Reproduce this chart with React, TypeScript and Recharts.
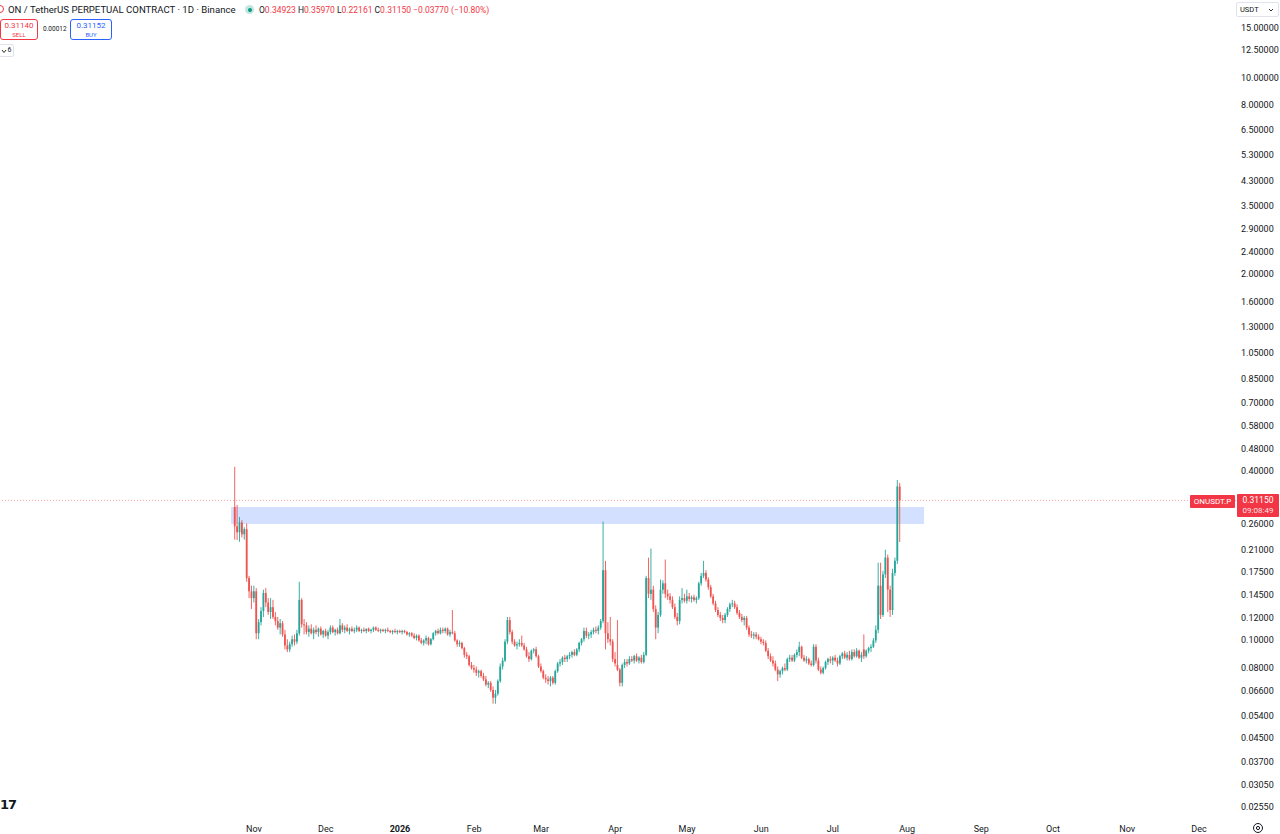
import React from 'react';
import { ComposedChart, Bar, XAxis, YAxis, ReferenceArea, ReferenceLine } from 'recharts';

type Candle = [number, number, number, number]; // open, high, low, close

const RED = '#ef5350';
const GREEN = '#26a69a';
const TEXT = '#131722';
const FONT = 'Roboto, "Noto Sans", sans-serif';

// day index 0 = 1 Nov 2025; first candle is 24 Oct 2025
const firstDay = -8;

const oct25: Candle[] = [
	[0.295, 0.41, 0.226, 0.252], [0.252, 0.3, 0.225, 0.24], [0.24, 0.272, 0.222, 0.26], [0.26, 0.265, 0.23, 0.236],
	[0.236, 0.25, 0.226, 0.246], [0.246, 0.258, 0.16, 0.165], [0.165, 0.168, 0.14, 0.148], [0.148, 0.155, 0.128, 0.14],
];

const nov25: Candle[] = [
	[0.14, 0.155, 0.135, 0.148], [0.148, 0.152, 0.1, 0.105], [0.105, 0.118, 0.1, 0.115], [0.115, 0.13, 0.112, 0.126],
	[0.126, 0.15, 0.12, 0.146], [0.146, 0.152, 0.13, 0.135], [0.135, 0.14, 0.122, 0.125], [0.125, 0.14, 0.118, 0.13],
	[0.13, 0.138, 0.118, 0.12], [0.12, 0.125, 0.112, 0.116], [0.116, 0.12, 0.108, 0.11], [0.11, 0.118, 0.104, 0.114],
	[0.114, 0.116, 0.102, 0.104], [0.104, 0.108, 0.092, 0.095], [0.095, 0.1, 0.09, 0.092], [0.092, 0.098, 0.09, 0.096],
	[0.096, 0.103, 0.094, 0.1], [0.1, 0.104, 0.095, 0.098], [0.098, 0.108, 0.096, 0.105], [0.105, 0.16, 0.103, 0.138],
	[0.138, 0.14, 0.11, 0.113], [0.113, 0.118, 0.104, 0.112], [0.112, 0.115, 0.104, 0.106], [0.106, 0.112, 0.102, 0.109],
	[0.109, 0.113, 0.104, 0.105], [0.105, 0.11, 0.1, 0.108], [0.108, 0.112, 0.104, 0.106], [0.106, 0.11, 0.102, 0.109],
	[0.109, 0.111, 0.103, 0.104], [0.104, 0.108, 0.101, 0.107],
];

const dec25: Candle[] = [
	[0.107, 0.109, 0.102, 0.103], [0.103, 0.108, 0.1, 0.106], [0.106, 0.112, 0.104, 0.11], [0.11, 0.112, 0.105, 0.106],
	[0.106, 0.109, 0.103, 0.108], [0.108, 0.11, 0.104, 0.105], [0.105, 0.118, 0.104, 0.112], [0.112, 0.114, 0.106, 0.108],
	[0.108, 0.112, 0.105, 0.11], [0.11, 0.113, 0.106, 0.107], [0.107, 0.11, 0.104, 0.109], [0.109, 0.111, 0.106, 0.107],
	[0.107, 0.11, 0.105, 0.108], [0.108, 0.112, 0.106, 0.11], [0.11, 0.111, 0.106, 0.107], [0.107, 0.109, 0.105, 0.108],
	[0.108, 0.11, 0.106, 0.107], [0.107, 0.109, 0.105, 0.109], [0.109, 0.11, 0.106, 0.107], [0.107, 0.109, 0.105, 0.108],
	[0.108, 0.111, 0.106, 0.11], [0.11, 0.111, 0.107, 0.108], [0.108, 0.11, 0.106, 0.107], [0.107, 0.109, 0.105, 0.108],
	[0.108, 0.109, 0.106, 0.107], [0.107, 0.109, 0.105, 0.108], [0.108, 0.11, 0.106, 0.107], [0.107, 0.108, 0.105, 0.106],
	[0.106, 0.108, 0.104, 0.107], [0.107, 0.109, 0.105, 0.106], [0.106, 0.108, 0.104, 0.107],
];

const jan26: Candle[] = [
	[0.107, 0.108, 0.105, 0.106], [0.106, 0.108, 0.104, 0.107], [0.107, 0.108, 0.105, 0.106], [0.106, 0.107, 0.103, 0.104],
	[0.104, 0.106, 0.102, 0.105], [0.105, 0.106, 0.102, 0.103], [0.103, 0.105, 0.1, 0.101], [0.101, 0.104, 0.099, 0.103],
	[0.103, 0.104, 0.098, 0.099], [0.099, 0.101, 0.096, 0.097], [0.097, 0.1, 0.095, 0.099], [0.099, 0.103, 0.096, 0.101],
	[0.101, 0.102, 0.095, 0.096], [0.096, 0.101, 0.095, 0.1], [0.1, 0.106, 0.099, 0.105], [0.105, 0.108, 0.103, 0.107],
	[0.107, 0.109, 0.104, 0.105], [0.105, 0.11, 0.104, 0.108], [0.108, 0.11, 0.105, 0.107], [0.107, 0.11, 0.105, 0.109],
	[0.109, 0.11, 0.103, 0.104], [0.104, 0.108, 0.102, 0.106], [0.106, 0.127, 0.104, 0.105], [0.105, 0.107, 0.098, 0.099],
	[0.099, 0.1, 0.094, 0.096], [0.096, 0.099, 0.094, 0.097], [0.097, 0.098, 0.092, 0.093], [0.093, 0.094, 0.086, 0.088],
	[0.088, 0.09, 0.085, 0.087], [0.087, 0.088, 0.08, 0.081], [0.081, 0.083, 0.078, 0.079],
];

const feb26: Candle[] = [
	[0.079, 0.081, 0.076, 0.078], [0.078, 0.08, 0.074, 0.076], [0.076, 0.078, 0.073, 0.077], [0.077, 0.078, 0.073, 0.074],
	[0.074, 0.076, 0.071, 0.072], [0.072, 0.074, 0.068, 0.069], [0.069, 0.071, 0.067, 0.07], [0.07, 0.071, 0.065, 0.066],
	[0.066, 0.068, 0.059, 0.062], [0.062, 0.066, 0.059, 0.064], [0.064, 0.072, 0.063, 0.071], [0.071, 0.082, 0.07, 0.08],
	[0.08, 0.086, 0.078, 0.084], [0.084, 0.1, 0.083, 0.098], [0.098, 0.12, 0.096, 0.117], [0.117, 0.12, 0.104, 0.106],
	[0.106, 0.108, 0.096, 0.098], [0.098, 0.1, 0.094, 0.095], [0.095, 0.098, 0.092, 0.096], [0.096, 0.1, 0.094, 0.097],
	[0.097, 0.103, 0.094, 0.095], [0.095, 0.097, 0.091, 0.092], [0.092, 0.094, 0.086, 0.087], [0.087, 0.09, 0.083, 0.085],
	[0.085, 0.092, 0.084, 0.091], [0.091, 0.093, 0.089, 0.092], [0.092, 0.094, 0.086, 0.087], [0.087, 0.088, 0.079, 0.08],
];

const mar26: Candle[] = [
	[0.08, 0.082, 0.076, 0.077], [0.077, 0.078, 0.072, 0.073], [0.073, 0.075, 0.07, 0.072], [0.072, 0.074, 0.069, 0.071],
	[0.071, 0.074, 0.068, 0.073], [0.073, 0.074, 0.069, 0.07], [0.07, 0.078, 0.069, 0.077], [0.077, 0.083, 0.076, 0.082],
	[0.082, 0.085, 0.08, 0.083], [0.083, 0.087, 0.081, 0.086], [0.086, 0.088, 0.083, 0.085], [0.085, 0.088, 0.083, 0.087],
	[0.087, 0.09, 0.085, 0.088], [0.088, 0.091, 0.086, 0.09], [0.09, 0.092, 0.087, 0.088], [0.088, 0.093, 0.087, 0.092],
	[0.092, 0.098, 0.09, 0.097], [0.097, 0.101, 0.095, 0.1], [0.1, 0.11, 0.098, 0.107], [0.107, 0.11, 0.101, 0.103],
	[0.103, 0.106, 0.1, 0.104], [0.104, 0.108, 0.101, 0.106], [0.106, 0.11, 0.104, 0.108], [0.108, 0.111, 0.105, 0.107],
	[0.107, 0.112, 0.104, 0.11], [0.11, 0.118, 0.108, 0.116], [0.116, 0.262, 0.114, 0.176], [0.176, 0.19, 0.092, 0.105],
	[0.105, 0.115, 0.097, 0.1], [0.1, 0.12, 0.095, 0.098], [0.098, 0.1, 0.083, 0.085],
];

const apr26: Candle[] = [
	[0.085, 0.09, 0.08, 0.082], [0.081, 0.117, 0.077, 0.078], [0.078, 0.079, 0.068, 0.07], [0.07, 0.082, 0.068, 0.081],
	[0.081, 0.085, 0.079, 0.083], [0.083, 0.085, 0.08, 0.082], [0.082, 0.087, 0.081, 0.085], [0.085, 0.087, 0.083, 0.084],
	[0.084, 0.088, 0.082, 0.087], [0.087, 0.089, 0.083, 0.084], [0.084, 0.087, 0.082, 0.086], [0.086, 0.088, 0.082, 0.083],
	[0.083, 0.09, 0.082, 0.088], [0.088, 0.168, 0.087, 0.165], [0.165, 0.195, 0.14, 0.145], [0.145, 0.21, 0.138, 0.15],
	[0.15, 0.155, 0.125, 0.128], [0.128, 0.132, 0.1, 0.11], [0.11, 0.125, 0.105, 0.122], [0.122, 0.163, 0.12, 0.15],
	[0.15, 0.162, 0.145, 0.158], [0.158, 0.192, 0.14, 0.145], [0.145, 0.15, 0.138, 0.142], [0.142, 0.146, 0.134, 0.138],
	[0.138, 0.142, 0.128, 0.13], [0.13, 0.134, 0.118, 0.12], [0.12, 0.124, 0.112, 0.116], [0.116, 0.142, 0.113, 0.138],
	[0.138, 0.152, 0.134, 0.14], [0.14, 0.145, 0.135, 0.137],
];

const may26: Candle[] = [
	[0.137, 0.15, 0.134, 0.142], [0.142, 0.146, 0.136, 0.139], [0.139, 0.143, 0.135, 0.141], [0.141, 0.144, 0.136, 0.138],
	[0.138, 0.142, 0.134, 0.14], [0.14, 0.16, 0.138, 0.158], [0.158, 0.172, 0.155, 0.168], [0.168, 0.19, 0.165, 0.172],
	[0.172, 0.176, 0.16, 0.163], [0.163, 0.166, 0.15, 0.153], [0.153, 0.156, 0.14, 0.142], [0.142, 0.145, 0.132, 0.134],
	[0.134, 0.137, 0.125, 0.127], [0.127, 0.13, 0.12, 0.122], [0.122, 0.125, 0.116, 0.119], [0.119, 0.122, 0.114, 0.117],
	[0.117, 0.124, 0.114, 0.122], [0.122, 0.13, 0.12, 0.128], [0.128, 0.135, 0.125, 0.133], [0.133, 0.138, 0.13, 0.134],
	[0.134, 0.137, 0.128, 0.13], [0.13, 0.133, 0.122, 0.124], [0.124, 0.127, 0.118, 0.12], [0.12, 0.123, 0.115, 0.117],
	[0.117, 0.121, 0.112, 0.119], [0.119, 0.121, 0.108, 0.11], [0.11, 0.112, 0.102, 0.104], [0.104, 0.107, 0.101, 0.103],
	[0.103, 0.106, 0.1, 0.104], [0.104, 0.106, 0.1, 0.102], [0.102, 0.104, 0.099, 0.1],
];

const jun26: Candle[] = [
	[0.1, 0.102, 0.096, 0.098], [0.098, 0.1, 0.095, 0.097], [0.097, 0.099, 0.09, 0.091], [0.091, 0.093, 0.085, 0.087],
	[0.087, 0.089, 0.083, 0.084], [0.084, 0.087, 0.08, 0.082], [0.082, 0.084, 0.077, 0.078], [0.078, 0.08, 0.071, 0.075],
	[0.075, 0.078, 0.073, 0.077], [0.077, 0.08, 0.075, 0.079], [0.079, 0.082, 0.077, 0.078], [0.078, 0.086, 0.077, 0.085],
	[0.085, 0.088, 0.083, 0.086], [0.086, 0.088, 0.083, 0.084], [0.084, 0.089, 0.083, 0.088], [0.088, 0.092, 0.086, 0.09],
	[0.09, 0.098, 0.087, 0.094], [0.094, 0.095, 0.085, 0.086], [0.086, 0.088, 0.083, 0.084], [0.084, 0.087, 0.082, 0.085],
	[0.085, 0.086, 0.081, 0.082], [0.082, 0.084, 0.08, 0.081], [0.081, 0.096, 0.08, 0.094], [0.094, 0.096, 0.082, 0.084],
	[0.084, 0.086, 0.077, 0.078], [0.078, 0.08, 0.075, 0.076], [0.076, 0.08, 0.075, 0.079], [0.079, 0.084, 0.078, 0.083],
	[0.083, 0.086, 0.081, 0.085], [0.085, 0.087, 0.082, 0.084],
];

const jul26: Candle[] = [
	[0.084, 0.087, 0.081, 0.086], [0.086, 0.088, 0.083, 0.084], [0.084, 0.086, 0.08, 0.082], [0.082, 0.088, 0.081, 0.087],
	[0.087, 0.09, 0.085, 0.089], [0.089, 0.091, 0.085, 0.086], [0.086, 0.09, 0.084, 0.088], [0.088, 0.091, 0.084, 0.085],
	[0.085, 0.092, 0.084, 0.09], [0.09, 0.092, 0.086, 0.087], [0.087, 0.093, 0.086, 0.091], [0.091, 0.092, 0.085, 0.086],
	[0.086, 0.09, 0.083, 0.088], [0.092, 0.104, 0.085, 0.087], [0.087, 0.092, 0.086, 0.091], [0.091, 0.094, 0.089, 0.093],
	[0.093, 0.096, 0.09, 0.094], [0.094, 0.101, 0.093, 0.099], [0.099, 0.112, 0.097, 0.108], [0.108, 0.187, 0.105, 0.155],
	[0.155, 0.187, 0.118, 0.122], [0.122, 0.175, 0.12, 0.17], [0.17, 0.208, 0.165, 0.195], [0.195, 0.2, 0.125, 0.15],
	[0.15, 0.155, 0.12, 0.127], [0.127, 0.178, 0.122, 0.172], [0.172, 0.195, 0.168, 0.19], [0.19, 0.368, 0.185, 0.349],
	[0.349, 0.3597, 0.2216, 0.3115],
];

const priceTicks = [
	15, 12.5, 10, 8, 6.5, 5.3, 4.3, 3.5, 2.9, 2.4, 2, 1.6, 1.3, 1.05, 0.85, 0.7, 0.58, 0.48, 0.4, 0.26, 0.21, 0.175, 0.145,
	0.12, 0.1, 0.08, 0.066, 0.054, 0.045, 0.037, 0.0305, 0.0255,
];
const monthTicks = [0, 30, 61, 92, 120, 151, 181, 212, 242, 273, 304, 334, 365, 395];
const monthLabels = ['Nov', 'Dec', '2026', 'Feb', 'Mar', 'Apr', 'May', 'Jun', 'Jul', 'Aug', 'Sep', 'Oct', 'Nov', 'Dec'];

// demand zone and last price
const zoneDays = [-9.6, 280.1];
const zonePrices = [0.257, 0.2953];
const lastPrice = 0.3115;

const rows = [...oct25, ...nov25, ...dec25, ...jan26, ...feb26, ...mar26, ...apr26, ...may26, ...jun26, ...jul26].map(
	([o, h, l, c], i) => ({ day: firstDay + i, o, h, l, c, range: [l, h] }),
);

function CandleShape(props: any) {
	const { x, y, width, height, payload } = props;
	if (!payload || x == null) return null;
	const { o, h, l, c } = payload;
	const top = Math.min(y, y + height);
	const bot = Math.max(y, y + height);
	const span = Math.log(h) - Math.log(l);
	const toPx = (p: number) => (span > 0 ? top + ((bot - top) * (Math.log(h) - Math.log(p))) / span : top);
	const cx = x + width / 2;
	const color = c >= o ? GREEN : RED;
	const bTop = toPx(Math.max(o, c));
	const bBot = toPx(Math.min(o, c));
	return (
		<g>
			<line x1={cx} x2={cx} y1={top} y2={bot} stroke={color} strokeWidth={0.9} />
			<rect x={cx - 0.9} y={bTop} width={1.8} height={Math.max(0.8, bBot - bTop)} fill={color} />
		</g>
	);
}

function PriceTick(props: any) {
	const { x, y, payload } = props;
	return (
		<text x={x} y={y + 1} dy='0.35em' fontSize={9} fill={TEXT} fontFamily={FONT}>
			{payload.value.toFixed(5)}
		</text>
	);
}

function MonthTick(props: any) {
	const { x, y, payload } = props;
	const label = monthLabels[monthTicks.indexOf(payload.value)];
	return (
		<text x={x} y={y + 12} textAnchor='middle' fontSize={9} fill={TEXT} fontFamily={FONT} fontWeight={label === '2026' ? 700 : 400}>
			{label}
		</text>
	);
}

export default function App() {
	return (
		<div style={{ position: 'fixed', left: 0, top: 0, width: 1280, height: 834, background: '#fff', overflow: 'hidden', fontFamily: FONT }}>
			<ComposedChart width={1280} height={834} data={rows} margin={{ top: 0, right: 0, bottom: 0, left: 0 }}>
				<XAxis
					dataKey='day'
					type='number'
					domain={[-106.2, 410.5]}
					allowDataOverflow
					ticks={monthTicks}
					interval={0}
					axisLine={false}
					tickLine={false}
					tickSize={0}
					height={16}
					tick={<MonthTick />}
				/>
				<YAxis
					orientation='right'
					scale='log'
					domain={[0.02315, 18.71]}
					allowDataOverflow
					ticks={priceTicks}
					interval={0}
					axisLine={false}
					tickLine={false}
					tickSize={0}
					tickMargin={5}
					width={44}
					tick={<PriceTick />}
				/>
				<ReferenceArea
					x1={zoneDays[0]}
					x2={zoneDays[1]}
					y1={zonePrices[0]}
					y2={zonePrices[1]}
					fill='#2962ff'
					fillOpacity={0.2}
					stroke='none'
				/>
				<ReferenceLine y={lastPrice} stroke='#f23645' strokeOpacity={0.45} strokeDasharray='1 2' />
				<Bar dataKey='range' barSize={2} shape={<CandleShape />} isAnimationActive={false} />
			</ComposedChart>

			{/* header */}
			<div style={{ position: 'absolute', left: -4, top: 5, width: 8, height: 8, borderRadius: 4, border: '1.5px solid #f23645', boxSizing: 'border-box' }} />
			<div style={{ position: 'absolute', left: 8, top: 3.5, fontSize: 9.6, color: TEXT, whiteSpace: 'nowrap' }}>
				ON / TetherUS PERPETUAL CONTRACT · 1D · Binance
			</div>
			<div style={{ position: 'absolute', left: 245, top: 5, width: 9, height: 9, borderRadius: 5, background: 'rgba(8,153,129,0.25)' }} />
			<div style={{ position: 'absolute', left: 247.5, top: 7.5, width: 4, height: 4, borderRadius: 2, background: '#089981' }} />
			<div style={{ position: 'absolute', left: 259, top: 4.5, fontSize: 8.5, color: '#f23645', whiteSpace: 'nowrap' }}>
				<span style={{ color: TEXT }}>O</span>0.34923 <span style={{ color: TEXT }}>H</span>0.35970{' '}
				<span style={{ color: TEXT }}>L</span>0.22161 <span style={{ color: TEXT }}>C</span>0.31150 −0.03770 (−10.80%)
			</div>

			{/* sell / buy */}
			<div style={{ position: 'absolute', left: 0, top: 19, width: 38, height: 21, border: '1px solid #f23645', borderRadius: 3, boxSizing: 'border-box', textAlign: 'center', color: '#f23645' }}>
				<div style={{ fontSize: 8, lineHeight: '10px', marginTop: 1 }}>0.31140</div>
				<div style={{ fontSize: 6, lineHeight: '7px' }}>SELL</div>
			</div>
			<div style={{ position: 'absolute', left: 43, top: 25, fontSize: 6.5, color: TEXT }}>0.00012</div>
			<div style={{ position: 'absolute', left: 70, top: 19, width: 42, height: 21, border: '1px solid #2962ff', borderRadius: 3, boxSizing: 'border-box', textAlign: 'center', color: '#2962ff' }}>
				<div style={{ fontSize: 8, lineHeight: '10px', marginTop: 1 }}>0.31152</div>
				<div style={{ fontSize: 6, lineHeight: '7px' }}>BUY</div>
			</div>
			<div style={{ position: 'absolute', left: -1, top: 44, width: 15, height: 13, border: '1px solid #e0e3eb', borderRadius: 2, boxSizing: 'border-box' }}>
				<svg style={{ position: 'absolute', left: 1, top: 3 }} width={6} height={6}>
					<polyline points='1,2 3,4.5 5,2' fill='none' stroke={TEXT} strokeWidth={0.9} />
				</svg>
				<span style={{ position: 'absolute', left: 7.5, top: 0, fontSize: 7, lineHeight: '11px', color: TEXT }}>6</span>
			</div>

			{/* currency selector */}
			<div style={{ position: 'absolute', left: 1236, top: 2, width: 43, height: 15, border: '1px solid #e0e3eb', borderRadius: 2, boxSizing: 'border-box', fontSize: 7.5, color: TEXT, lineHeight: '13px', paddingLeft: 3 }}>
				USDT
				<svg style={{ position: 'absolute', right: 4, top: 4 }} width={6} height={6}>
					<polyline points='1,2 3,4 5,2' fill='none' stroke={TEXT} strokeWidth={0.9} />
				</svg>
			</div>

			{/* last price labels */}
			<div style={{ position: 'absolute', left: 1190, top: 495, width: 45, height: 13, background: '#f23645', color: '#fff', fontSize: 8, lineHeight: '13px', textAlign: 'center', borderRadius: 1 }}>
				ONUSDT.P
			</div>
			<div style={{ position: 'absolute', left: 1237, top: 494, width: 42, height: 23, background: '#f23645', color: '#fff', textAlign: 'center', borderRadius: 1 }}>
				<div style={{ fontSize: 8.5, lineHeight: '11px', marginTop: 1 }}>0.31150</div>
				<div style={{ fontSize: 8, lineHeight: '10px', opacity: 0.85 }}>09:08:49</div>
			</div>

			{/* logo and settings */}
			<div style={{ position: 'absolute', left: 0, top: 797, fontSize: 13, fontWeight: 900, color: '#131722', fontFamily: '"DejaVu Sans", sans-serif', letterSpacing: -1 }}>
				17
			</div>
			<svg style={{ position: 'absolute', left: 1252, top: 822 }} width={12} height={12}>
				<circle cx={6} cy={6} r={4.5} fill='none' stroke={TEXT} strokeWidth={1} />
				<circle cx={6} cy={6} r={1.6} fill='none' stroke={TEXT} strokeWidth={1} />
			</svg>
		</div>
	);
}
